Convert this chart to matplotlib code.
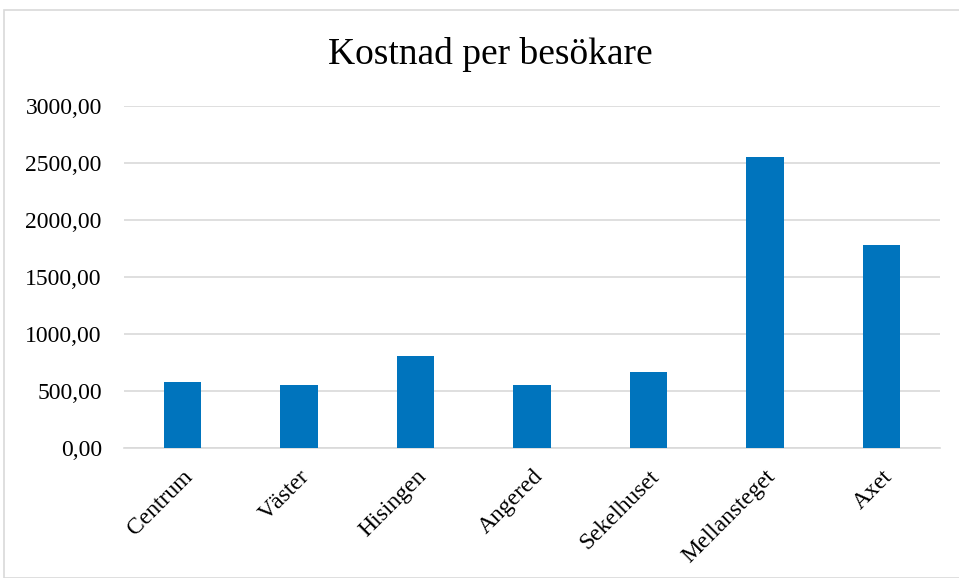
import matplotlib.pyplot as plt
from matplotlib.patches import Rectangle
from matplotlib.ticker import FuncFormatter

categories = ["Centrum", "Väster", "Hisingen", "Angered", "Sekelhuset", "Mellansteget", "Axet"]
values = [580, 556, 809, 556, 668, 2552, 1784]
yticks = [0, 500, 1000, 1500, 2000, 2500, 3000]

plt.rcParams["font.family"] = ["Liberation Serif", "DejaVu Serif"]

fig = plt.figure(figsize=(9.59, 5.78), dpi=100)
W, H = 959, 578
ax = fig.add_axes([124 / W, 1 - 448 / H, (940 - 124) / W, (448 - 106) / H])

# outer chart frame
fig.patches.append(Rectangle((4 / W, 0), 1, 1 - 9.5 / H, transform=fig.transFigure,
                             fill=False, edgecolor="#D9D9D9", linewidth=1.2))

x = list(range(len(categories)))
ax.bar(x, values, width=0.32, color="#0074BD", zorder=3)

ax.set_xlim(-0.5, len(categories) - 0.5)
ax.set_ylim(0, 3000)
ax.set_yticks(yticks)
ax.yaxis.set_major_formatter(FuncFormatter(lambda v, p: f"{v:.2f}".replace(".", ",")))
ax.grid(axis="y", color="#D9D9D9", linewidth=1.2, zorder=0)
for s in ["top", "right", "left"]:
    ax.spines[s].set_visible(False)
ax.spines["bottom"].set_color("#D9D9D9")
ax.spines["bottom"].set_linewidth(1.2)
ax.tick_params(axis="both", length=0, labelsize=17)
ax.tick_params(axis="y", pad=16)
ax.tick_params(axis="x", pad=13)
ax.set_xticks(x)
ax.set_xticklabels(categories, rotation=45, ha="right", va="top", rotation_mode="anchor")

fig.text(490 / W, 1 - 54 / H, "Kostnad per besökare", ha="center", va="center", fontsize=27)

fig.savefig("out.png", dpi=100)
